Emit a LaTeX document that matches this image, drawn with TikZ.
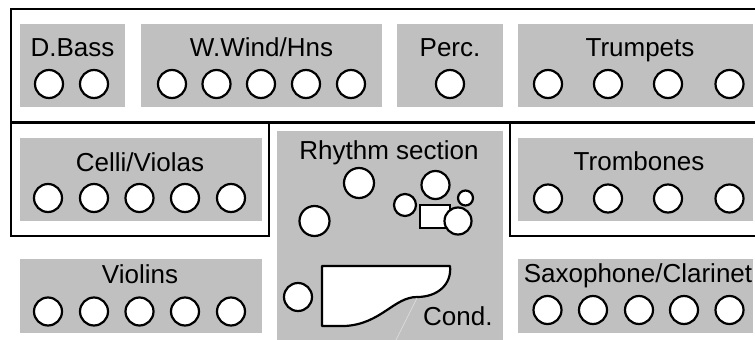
\documentclass[tikz,border=0pt]{standalone}
\usepackage{fontspec}
\setmainfont{Liberation Sans}
\definecolor{secgray}{RGB}{192,192,192}
\definecolor{propline}{RGB}{225,225,225}
\begin{document}
\begin{tikzpicture}[x=1pt,y=-1pt,
  frame/.style={draw=black, line width=2.2pt},
  section/.style={fill=secgray, draw=none},
  seat/.style={circle, draw=black, fill=white, line width=2.2pt, minimum size=28pt, inner sep=0pt},
  lbl/.style={anchor=base, inner sep=0pt, font=\fontsize{26}{31}\selectfont},
  drumpart/.style={draw=black, fill=white, line width=2.2pt}]
\useasboundingbox (0,0) rectangle (755,340);
\fill[white] (0,0) rectangle (755,340);
% black frames
\draw[frame] (11,9) rectangle (775,122.5);
\draw[frame] (11,122.5) rectangle (269,236);
\draw[frame] (510,122.5) rectangle (775,236);
% gray sections
\path[section] (20,24) rectangle (125,107);
\path[section] (141,24) rectangle (382,107);
\path[section] (397,24) rectangle (503,107);
\path[section] (518,24) rectangle (753,107);
\path[section] (20,138) rectangle (262,221);
\path[section] (20,259) rectangle (262,333);
\path[section] (277,131) rectangle (503,345);
\path[section] (518,138) rectangle (753,221);
\path[section] (518,259) rectangle (753,333);
% labels
\node[lbl] (tdb) at (72.5,56) {D.Bass};
\node[lbl] (tww) at (261.5,56) {W.Wind/Hns};
\node[lbl] (tpc) at (450,56) {Perc.};
\node[lbl] (ttp) at (640,56) {Trumpets};
\node[lbl] (tcv) at (140,171) {Celli/Violas};
\node[lbl] (tvl) at (140,283) {Violins};
\node[lbl] (trs) at (389,159) {Rhythm section};
\node[lbl] (ttb) at (639,170) {Trombones};
\node[lbl] (tsx) at (638,282) {Saxophone/Clarinet};
\node[lbl, anchor=base west] (tcd) at (423,325) {Cond.};
% seats, top row
\foreach \x [count=\i] in {49,94} \node[seat] (db\i) at (\x,84) {};
\foreach \x [count=\i] in {172,216.5,261,306,351} \node[seat] (ww\i) at (\x,84) {};
\node[seat] (pc1) at (450,84) {};
\foreach \x [count=\i] in {548,608,668,729.5} \node[seat] (tp\i) at (\x,84) {};
% middle row
\foreach \x [count=\i] in {48,94,139.5,185,231} \node[seat] (cv\i) at (\x,198) {};
\foreach \x [count=\i] in {548,608,668,729.5} \node[seat] (tb\i) at (\x,198.5) {};
% bottom row
\foreach \x [count=\i] in {48,94,139.5,185,231} \node[seat] (vl\i) at (\x,311.5) {};
\foreach \x [count=\i] in {547.5,593,639,684,729.5} \node[seat] (sx\i) at (\x,310) {};
% rhythm section
\node[seat, minimum size=30pt] (rs1) at (359,183) {};
\node[seat, minimum size=30pt] (rs2) at (314.5,221) {};
\node[seat, minimum size=28pt] (rs3) at (298,297) {};
% drum kit
\node[seat, minimum size=22pt] (dk1) at (405,205) {};
\node[seat, minimum size=28pt] (dk2) at (435.5,185) {};
\path[drumpart] (420,205) rectangle (450,228);
\node[seat, minimum size=15pt] (dk3) at (465.5,198) {};
\node[seat, minimum size=27pt] (dk4) at (458,221) {};
% piano
\path[drumpart, line join=round]
  (322,266) -- (450,266)
  .. controls (452,284) and (438,297) .. (417,297)
  .. controls (394,297) and (381,324) .. (345,326)
  -- (322,326) -- cycle;
\coordinate (lidA) at (417,298);
\coordinate (lidB) at (395,342);
\draw[propline, line width=0.6pt] (lidA) -- (lidB);
\end{tikzpicture}
\end{document}
